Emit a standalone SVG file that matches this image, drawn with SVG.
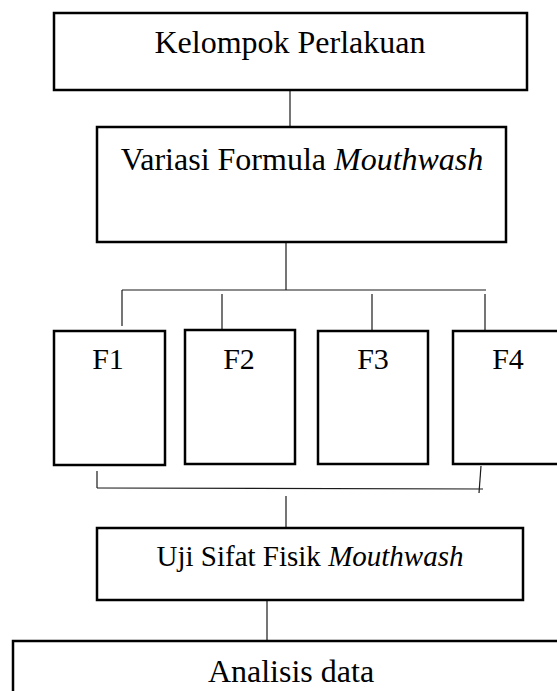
<svg xmlns="http://www.w3.org/2000/svg" width="557" height="691" viewBox="0 0 557 691">
  <style>
    .box { fill: #ffffff; stroke: #000000; stroke-width: 2.5; }
    .lbl { font-family: "Liberation Serif", "Times New Roman", serif; fill: #000000; text-anchor: middle; }
    .it { font-style: italic; }
    .conn { fill: none; stroke: #1a1a1a; stroke-width: 1.2; }
  </style>
  <rect width="557" height="691" fill="#ffffff"/>

  <!-- connectors -->
  <g id="connectors" class="conn">
    <line x1="290" y1="91" x2="290" y2="126"/>
    <line x1="286" y1="242" x2="286" y2="290"/>
    <line x1="122" y1="290" x2="486" y2="290"/>
    <line x1="122" y1="290" x2="122" y2="326"/>
    <line x1="222" y1="294" x2="222" y2="329"/>
    <line x1="372" y1="294" x2="372" y2="331"/>
    <line x1="485" y1="294" x2="485" y2="331"/>
    <line x1="97" y1="471" x2="97" y2="488"/>
    <line x1="97" y1="488" x2="483" y2="489"/>
    <line x1="481" y1="466" x2="479" y2="493"/>
    <line x1="286" y1="496" x2="286" y2="528"/>
    <line x1="267" y1="601" x2="267" y2="641"/>
  </g>

  <!-- nodes -->
  <g id="kelompok">
    <rect class="box" x="54" y="13" width="473" height="77"/>
    <text class="lbl" x="290" y="53" font-size="32">Kelompok Perlakuan</text>
  </g>
  <g id="variasi">
    <rect class="box" x="97" y="127" width="409" height="115"/>
    <text class="lbl" x="302" y="170" font-size="32">Variasi Formula <tspan class="it">Mouthwash</tspan></text>
  </g>
  <g id="f1">
    <rect class="box" x="54" y="331" width="111" height="134"/>
    <text class="lbl" x="108" y="369" font-size="30">F1</text>
  </g>
  <g id="f2">
    <rect class="box" x="185" y="330" width="110" height="134"/>
    <text class="lbl" x="239" y="369" font-size="30">F2</text>
  </g>
  <g id="f3">
    <rect class="box" x="318" y="331" width="110" height="133"/>
    <text class="lbl" x="373" y="369" font-size="30">F3</text>
  </g>
  <g id="f4">
    <rect class="box" x="453" y="331" width="112" height="133"/>
    <text class="lbl" x="508" y="369" font-size="30">F4</text>
  </g>
  <g id="uji">
    <rect class="box" x="97" y="528" width="426" height="72"/>
    <text class="lbl" x="310" y="566" font-size="29">Uji Sifat Fisik <tspan class="it">Mouthwash</tspan></text>
  </g>
  <g id="analisis">
    <rect class="box" x="13" y="641" width="560" height="80"/>
    <text class="lbl" x="291" y="682" font-size="32">Analisis data</text>
  </g>
</svg>
